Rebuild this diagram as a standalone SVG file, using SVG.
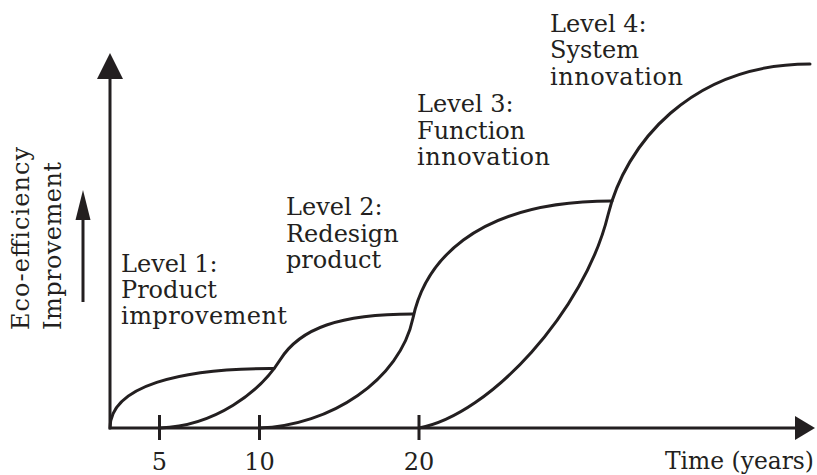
<svg xmlns="http://www.w3.org/2000/svg" width="817" height="475" viewBox="0 0 817 475">
  <style>
    .txt { font-family: "DejaVu Serif", "Liberation Serif", serif; font-size: 24px; fill: #231f20; }
    .axis { fill: none; stroke: #231f20; stroke-width: 3; }
    .curve { fill: none; stroke: #231f20; stroke-width: 3; stroke-linecap: round; }
    .head { fill: #231f20; }
  </style>
  <rect width="817" height="475" fill="#ffffff"/>

  <!-- axes -->
  <g id="axes">
    <path class="axis" d="M110,78 V428 H796"/>
    <polygon class="head" points="110,53 97,79 123,79"/>
    <polygon class="head" points="815,428 795,416 795,440"/>
    <path class="axis" d="M159.5,415 V440 M259.5,415 V440 M419,415 V440"/>
    <text class="txt" x="159.5" y="469.5" text-anchor="middle">5</text>
    <text class="txt" x="259.5" y="469.5" text-anchor="middle">10</text>
    <text class="txt" x="419" y="469.5" text-anchor="middle">20</text>
    <text class="txt" x="814" y="469" text-anchor="end" textLength="149" lengthAdjust="spacingAndGlyphs">Time (years)</text>
  </g>

  <!-- vertical axis caption -->
  <g id="y-label">
    <text class="txt" transform="translate(29,330) rotate(-90)" textLength="183" lengthAdjust="spacing">Eco-efficiency</text>
    <text class="txt" transform="translate(61,330) rotate(-90)" textLength="168" lengthAdjust="spacing">Improvement</text>
    <line class="axis" x1="83" y1="302" x2="83" y2="215"/>
    <polygon class="head" points="83,190 75.5,220 90.5,220"/>
  </g>

  <!-- S-curves -->
  <g id="connectors">
    <path id="curve-1" class="curve" d="M110,428 C110,386 180,368 274,368.5"/>
    <path id="curve-2" class="curve" d="M160,428 C215,426 260,392 280,360 C300,328 340,314 413,314"/>
    <path id="curve-3" class="curve" d="M259,428 C330,426 400,380 413,318 C424,266 470,201 612,201"/>
    <path id="curve-4" class="curve" d="M419,428 C490,415 585,310 608,215 C625,145 690,64 810,64"/>
  </g>

  <g id="level-1">
    <text class="txt" x="121" y="272">Level 1:</text>
    <text class="txt" x="121" y="298">Product</text>
    <text class="txt" x="121" y="324" textLength="166" lengthAdjust="spacing">improvement</text>
  </g>
  <g id="level-2">
    <text class="txt" x="286" y="215">Level 2:</text>
    <text class="txt" x="286" y="242">Redesign</text>
    <text class="txt" x="286" y="268">product</text>
  </g>
  <g id="level-3">
    <text class="txt" x="417" y="112">Level 3:</text>
    <text class="txt" x="417" y="139">Function</text>
    <text class="txt" x="417" y="165" textLength="133" lengthAdjust="spacing">innovation</text>
  </g>
  <g id="level-4">
    <text class="txt" x="550" y="32">Level 4:</text>
    <text class="txt" x="550" y="58">System</text>
    <text class="txt" x="550" y="85" textLength="133" lengthAdjust="spacing">innovation</text>
  </g>
</svg>
